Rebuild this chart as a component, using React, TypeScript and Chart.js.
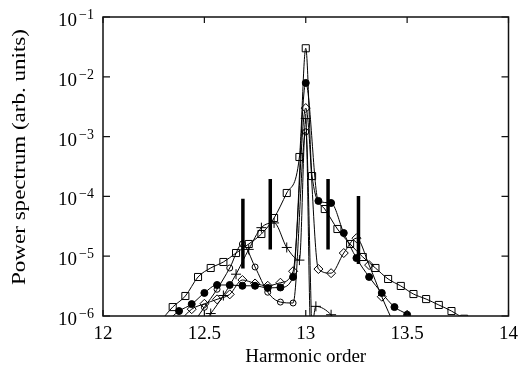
import React, { useEffect, useRef } from 'react';
import { Chart, registerables } from 'chart.js';

Chart.register(...registerables);

const xTicks = [12, 12.5, 13, 13.5, 14];
const yTicks = [1e-6, 1e-5, 1e-4, 1e-3, 1e-2, 1e-1];

// open squares
const squareX = [12.28125, 12.34375, 12.40625, 12.46875, 12.53125, 12.59375, 12.65625, 12.71875, 12.78125, 12.84375, 12.90625, 12.96875, 13.0, 13.03125, 13.09375, 13.15625, 13.21875, 13.28125, 13.34375, 13.40625, 13.46875, 13.53125, 13.59375, 13.65625, 13.71875, 13.78125];
const squareY = [8e-7, 1.41e-6, 2.16e-6, 4.49e-6, 6.35e-6, 8.0e-6, 1.13e-5, 1.6e-5, 2.35e-5, 4.35e-5, 1.14e-4, 4.56e-4, 3.0e-2, 2.19e-4, 6.15e-5, 2.85e-5, 1.6e-5, 9.7e-6, 6.35e-6, 4.16e-6, 3.18e-6, 2.33e-6, 1.92e-6, 1.53e-6, 1.21e-6, 9e-7];

// filled circles
const filledX = [12.3125, 12.375, 12.4375, 12.5, 12.5625, 12.625, 12.6875, 12.75, 12.8125, 12.875, 12.9375, 13.0, 13.0625, 13.125, 13.1875, 13.25, 13.3125, 13.375, 13.4375, 13.5, 13.5625];
const filledY = [8e-7, 1.21e-6, 1.58e-6, 2.43e-6, 3.3e-6, 3.3e-6, 3.2e-6, 3.2e-6, 2.95e-6, 3.0e-6, 4.5e-6, 7.9e-3, 8.4e-5, 7.76e-5, 2.44e-5, 9.3e-6, 4.5e-6, 2.43e-6, 1.41e-6, 1.05e-6, 6e-7];

// open circles
const openX = [12.4375, 12.5, 12.5625, 12.625, 12.6875, 12.75, 12.8125, 12.875, 12.9375, 13.0, 13.03];
const openY = [7e-7, 1.4e-6, 2.8e-6, 6.35e-6, 1.6e-5, 6.6e-6, 2.5e-6, 1.71e-6, 1.65e-6, 1.2e-3, 5e-7];

// open diamonds
const diamondX = [12.375, 12.4375, 12.5, 12.5625, 12.625, 12.6875, 12.75, 12.8125, 12.875, 12.9375, 13.0, 13.0625, 13.125, 13.1875, 13.25, 13.3125, 13.375, 13.4375];
const diamondY = [8e-7, 1.3e-6, 1.6e-6, 1.9e-6, 2.3e-6, 4.0e-6, 3.5e-6, 3.2e-6, 3.6e-6, 5.6e-6, 3.0e-3, 6.1e-6, 5.2e-6, 1.13e-5, 2.0e-5, 7.1e-6, 2.1e-6, 7e-7];

// plus markers
const plusX = [12.46875, 12.53125, 12.59375, 12.65625, 12.71875, 12.78125, 12.84375, 12.90625, 12.96875, 13.0, 13.025, 13.05, 13.125, 13.19];
const plusY = [6e-7, 1.1e-6, 2.2e-6, 5.0e-6, 1.3e-5, 3.0e-5, 3.6e-5, 1.4e-5, 8.6e-6, 2.0e-3, 5e-7, 1.45e-6, 1.05e-6, 5e-7];

// thick vertical bars
const barX = [12.69, 12.825, 13.11, 13.26];
const barLow = [6.2e-6, 1.3e-5, 1.3e-5, 7.4e-6];
const barHigh = [9.1e-5, 1.95e-4, 1.95e-4, 1.02e-4];

const FONT = 'Liberation Serif, Times New Roman, serif';

const pts = (xs: number[], ys: number[]) => xs.map((x, i) => ({ x, y: ys[i] }));

const series = (xs: number[], ys: number[], style: string, radius: number, filled: boolean) => ({
  data: pts(xs, ys),
  borderColor: '#000',
  borderWidth: 1,
  pointStyle: style,
  pointRadius: radius,
  pointBorderColor: '#000',
  pointBorderWidth: 1,
  pointBackgroundColor: filled ? '#000' : 'rgba(0,0,0,0)',
  cubicInterpolationMode: 'monotone',
  fill: false,
});

const framePlugin = {
  id: 'frame',
  afterDatasetsDraw(chart: any) {
    const { ctx, chartArea, scales } = chart;
    const { left, right, top, bottom } = chartArea;
    const x = scales.x;
    const y = scales.y;
    ctx.save();
    ctx.strokeStyle = '#111';
    ctx.lineWidth = 1.5;
    ctx.strokeRect(left, top, right - left, bottom - top);
    ctx.lineWidth = 1.2;
    ctx.beginPath();
    for (const v of xTicks) {
      const px = x.getPixelForValue(v);
      ctx.moveTo(px, bottom); ctx.lineTo(px, bottom - 6);
      ctx.moveTo(px, top); ctx.lineTo(px, top + 6);
    }
    for (const v of yTicks) {
      const py = y.getPixelForValue(v);
      ctx.moveTo(left, py); ctx.lineTo(left + 7, py);
      ctx.moveTo(right, py); ctx.lineTo(right - 7, py);
    }
    ctx.stroke();

    // y tick labels with superscript exponent
    ctx.fillStyle = '#000';
    for (const v of yTicks) {
      const py = y.getPixelForValue(v);
      const e = Math.round(Math.log10(v));
      ctx.font = `19px ${FONT}`;
      ctx.textAlign = 'right';
      ctx.textBaseline = 'alphabetic';
      ctx.fillText('10', left - 26, py + 9);
      ctx.font = `14px ${FONT}`;
      ctx.textAlign = 'left';
      ctx.fillText((e < 0 ? '\u2212' : '') + Math.abs(e), left - 24, py + 2);
    }

    // y axis title
    const text = 'Power spectrum (arb. units)';
    ctx.font = `18px ${FONT}`;
    const w = ctx.measureText(text).width;
    ctx.translate(20, 157);
    ctx.rotate(-Math.PI / 2);
    ctx.scale(256 / w, 1);
    ctx.textAlign = 'center';
    ctx.textBaseline = 'middle';
    ctx.fillText(text, 0, 0);
    ctx.restore();
  },
};

export default function App() {
  const ref = useRef<HTMLCanvasElement | null>(null);
  useEffect(() => {
    document.body.style.margin = '0';
    if (!ref.current) return;
    const barSets = barX.map((bx, i) => ({
      data: [{ x: bx, y: barLow[i] }, { x: bx, y: barHigh[i] }],
      borderColor: '#000',
      borderWidth: 3.5,
      borderCapStyle: 'butt',
      pointRadius: 0,
      fill: false,
    }));
    const chart = new Chart(ref.current, {
      type: 'line',
      data: {
        datasets: [
          ...barSets,
          series(squareX, squareY, 'rect', 5, false),
          series(filledX, filledY, 'circle', 3.5, true),
          series(openX, openY, 'circle', 3, false),
          series(diamondX, diamondY, 'rectRot', 4.5, false),
          series(plusX, plusY, 'cross', 5, false),
        ] as any,
      },
      options: {
        animation: false,
        responsive: false,
        devicePixelRatio: 1,
        parsing: false as any,
        layout: { padding: { left: 0, right: 10, top: 17, bottom: 0 } },
        plugins: { legend: { display: false }, tooltip: { enabled: false } },
        scales: {
          x: {
            type: 'linear',
            min: 12,
            max: 14,
            afterBuildTicks: (s: any) => { s.ticks = xTicks.map((v) => ({ value: v })); },
            ticks: {
              font: { family: FONT, size: 19 },
              color: '#000',
              padding: 7,
              maxRotation: 0,
              autoSkip: false,
              callback: (v: any) => String(v),
            },
            grid: { display: false, drawTicks: false },
            border: { display: false },
            title: {
              display: true,
              text: 'Harmonic order',
              font: { family: FONT, size: 19 },
              color: '#000',
              padding: { top: 0, bottom: 0 },
            },
            afterFit: (s: any) => { s.height = 52; },
          },
          y: {
            type: 'logarithmic',
            min: 1e-6,
            max: 1e-1,
            afterBuildTicks: (s: any) => { s.ticks = yTicks.map((v) => ({ value: v })); },
            ticks: { callback: () => '' },
            grid: { display: false, drawTicks: false },
            border: { display: false },
            afterFit: (s: any) => { s.width = 103; },
          },
        },
      } as any,
      plugins: [framePlugin],
    });
    return () => chart.destroy();
  }, []);
  return (
    <div style={{ width: 525, height: 368 }}>
      <canvas ref={ref} width={525} height={368} style={{ display: 'block' }} />
    </div>
  );
}
